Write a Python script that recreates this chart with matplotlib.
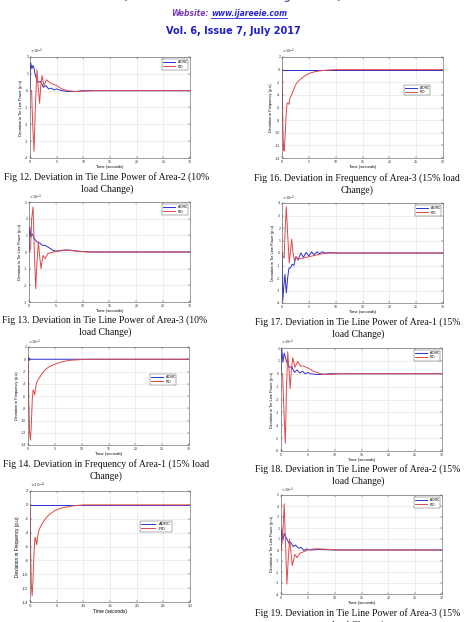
import numpy as np
import matplotlib
matplotlib.use('Agg')
import matplotlib.pyplot as plt
from matplotlib.lines import Line2D

W, H = 467, 622
plt.rcParams['axes.unicode_minus'] = False
plt.rcParams['font.family'] = ['Liberation Sans', 'DejaVu Sans']

BLUE = '#2f2fd0'
RED = '#e04848'

# ============ DATA (values in x10^-4, read from the page) ============
# Fig 12 - tie line power, area-2, 10% load change
t12_adrc = [0, 0.05, 0.15, 0.35, 0.55, 0.75, 1.0, 1.5, 2.0, 2.5, 3.0, 3.5, 4.0, 4.5, 5.0, 6.0, 7.0, 8.5, 10, 12, 30]
y12_adrc = [0, 1.2, 1.65, 1.3, 1.5, 1.35, 0.9, 0.5, 0.55, 0.2, 0.3, 0.1, 0.15, 0.05, 0.1, 0.0, -0.05, -0.05, 0, 0, 0]
t12_pid = [0, 0.3, 0.5, 0.75, 1.0, 1.3, 1.55, 1.8, 2.0, 2.25, 2.6, 3.1, 3.6, 4.2, 5.0, 6.0, 7.0, 8.5, 10, 12, 30]
y12_pid = [0, 0, -2.0, -3.6, -1.0, 1.25, 0.2, -0.75, 0.2, 0.9, 0.3, 0.65, 0.5, 0.4, 0.3, 0.1, 0.0, -0.05, -0.03, 0, 0]

# Fig 13 - tie line power, area-3, 10% load change
t13_adrc = [0, 0.05, 0.15, 0.35, 0.55, 0.8, 1.0, 1.5, 2.0, 2.5, 3.0, 3.5, 4.0, 4.5, 5.0, 6.0, 7.0, 8.0, 9.0, 10.5, 12, 30]
y13_adrc = [0, 1.0, 1.5, 0.9, 1.1, 0.95, 0.8, 0.6, 0.55, 0.4, 0.4, 0.3, 0.2, 0.1, 0.05, 0.1, 0.12, 0.1, 0.05, 0.02, 0, 0]
t13_pid = [0, 0.3, 0.5, 0.75, 1.0, 1.25, 1.5, 1.75, 2.0, 2.25, 2.6, 3.0, 3.5, 4.5, 5.5, 6.5, 7.5, 9, 11, 30]
y13_pid = [0, 0.2, 2.0, 2.7, 0.0, -2.2, -0.5, 0.6, -0.3, -1.0, -0.2, -0.4, -0.1, 0.0, 0.05, 0.1, 0.1, 0.05, 0, 0]

# Fig 14 - frequency, area-1, 15% load change
t14_adrc = [0, 0.1, 0.2, 0.3, 0.4, 30]
y14_adrc = [0, 0.3, -0.2, 0.1, 0, 0]
t14_pid = [0, 0.15, 0.3, 0.45, 0.6, 0.8, 0.95, 1.1, 1.25, 1.4, 1.6, 2.0, 2.5, 3.0, 3.5, 4.0, 5.0, 6.0, 7.0, 8.0, 10, 12, 30]
y14_pid = [0, -7, -12, -13.2, -11, -6.5, -5.0, -5.3, -5.8, -4.8, -3.8, -3.2, -2.5, -1.9, -1.5, -1.2, -0.8, -0.5, -0.3, -0.15, -0.05, 0, 0]

# Fig 15 (bottom left, caption cut off) - frequency
t15_adrc = [0, 30]
y15_adrc = [0, 0]
t15_pid = [0, 0.1, 0.25, 0.4, 0.55, 0.75, 0.95, 1.1, 1.25, 1.45, 1.7, 2.0, 2.7, 3.5, 4.7, 6.0, 8.0, 10, 30]
y15_pid = [0, -6, -11.5, -13.1, -11, -7, -4.7, -5.0, -5.75, -4.5, -3.6, -3.1, -2.2, -1.45, -0.8, -0.43, -0.15, 0, 0]

# Fig 16 - frequency, area-3, 15% load change
t16_adrc = [0, 30]
y16_adrc = [0, 0]
t16_pid = [0, 0.1, 0.2, 0.3, 0.4, 0.55, 0.75, 0.95, 1.1, 1.3, 1.45, 1.7, 2.0, 2.6, 3.2, 3.9, 4.5, 5.1, 6.0, 7.0, 8.5, 10, 30]
y16_pid = [0, -6, -10.5, -12.5, -12.9, -11, -7.5, -5.3, -5.3, -5.5, -4.6, -4.2, -3.5, -2.3, -1.7, -1.2, -0.85, -0.6, -0.35, -0.2, -0.07, 0, 0]

# Fig 17 - tie line power, area-1, 15% load change
t17_adrc = [0, 0.15, 0.35, 0.55, 0.8, 1.05, 1.3, 1.6, 1.9, 2.2, 2.6, 3.0, 3.5, 4.0, 4.5, 5.0, 5.5, 6.0, 6.5, 7.0, 7.5, 8.0, 9, 10, 12, 30]
y17_adrc = [0, -3.8, -2.6, -1.7, -3.2, -2.0, -1.2, -1.2, -0.9, -1.0, -0.3, -0.55, 0.0, -0.35, 0.05, -0.25, 0.1, -0.15, 0.1, -0.05, 0.1, 0, 0.03, 0, 0, 0]
t17_pid = [0, 0.2, 0.4, 0.6, 0.8, 1.05, 1.35, 1.6, 1.8, 2.05, 2.3, 2.6, 3.0, 3.5, 4.0, 5.0, 6.0, 7.0, 8.5, 10, 30]
y17_pid = [0, -0.3, -0.4, 2.0, 3.7, 1.5, -0.8, 0.2, 1.1, 0.0, -0.6, -0.3, -0.5, -0.45, -0.4, -0.3, -0.2, -0.1, 0, 0, 0]

# Fig 18 - tie line power, area-2, 15% load change
t18_adrc = [0, 0.05, 0.15, 0.35, 0.6, 0.8, 1.0, 1.5, 2.0, 2.5, 3.0, 3.5, 4.0, 4.5, 5.0, 5.5, 6.5, 7.5, 9, 10.5, 30]
y18_adrc = [0, 1.3, 1.9, 0.9, 1.6, 1.3, 1.0, 0.5, 0.55, 0.1, 0.3, 0.05, 0.2, 0.0, 0.1, 0.0, -0.05, -0.05, 0, 0, 0]
t18_pid = [0, 0.3, 0.55, 0.8, 1.0, 1.25, 1.5, 1.7, 1.95, 2.2, 2.6, 3.1, 3.6, 4.2, 5.0, 6.0, 7.0, 8.0, 9.5, 11, 30]
y18_pid = [0, 0, -3.0, -5.4, -1.5, 1.7, 0.3, -1.15, 0.4, 1.25, 0.5, 0.95, 0.6, 0.6, 0.45, 0.2, 0.05, -0.05, -0.05, 0, 0]

# Fig 19 - tie line power, area-3, 15% load change
t19_adrc = [0, 0.05, 0.15, 0.35, 0.6, 0.8, 1.0, 1.5, 1.8, 2.3, 2.7, 3.3, 3.7, 4.3, 4.7, 5.5, 7.0, 8.5, 10, 30]
y19_adrc = [0, 1.3, 1.9, 0.9, 1.5, 1.3, 1.1, 0.6, 0.7, 0.3, 0.45, 0.15, 0.25, -0.05, 0.1, 0.0, 0.05, 0.03, 0, 0]
t19_pid = [0, 0.3, 0.6, 0.85, 1.1, 1.35, 1.6, 1.85, 2.1, 2.6, 3.0, 3.5, 4.0, 5.0, 6.0, 7.0, 9.0, 12, 30]
y19_pid = [0, 1.0, 4.2, 0.5, -3.1, -0.8, 1.0, -0.2, -1.4, -0.4, -0.7, -0.3, -0.2, 0.0, 0.1, 0.1, 0.05, 0, 0]

TIE = 'Deviation in Tie Line Power (p.u)'
FREQ = 'Deviation in Frequency (p.u)'

fig = plt.figure(figsize=(W / 100, H / 100), dpi=100)


def panel(rect, ta, ya, tp, yp, ylo, yhi, ystep, ylabel, leg=None, fs=2.6):
    x0, y0, x1, y1 = rect
    ax = fig.add_axes([x0 / W, 1 - y1 / H, (x1 - x0) / W, (y1 - y0) / H])
    ax.plot(ta, ya, color=BLUE, lw=0.7, label='ADRC')
    ax.plot(tp, yp, color=RED, lw=0.7, label='PID')
    ax.set_xlim(0, 30)
    ax.set_ylim(ylo, yhi)
    ax.set_xticks(range(0, 31, 5))
    ax.set_yticks(np.arange(ylo, yhi + 0.01, ystep))
    ax.grid(True, color='#e2e2e2', lw=0.4)
    ax.set_axisbelow(True)
    ax.tick_params(labelsize=fs, direction='in', length=1.2, width=0.3,
                   pad=1.2, top=True, right=True, colors='#333333')
    for s in ax.spines.values():
        s.set_linewidth(0.4)
        s.set_color('#555555')
    ax.set_xlabel('Time (seconds)', fontsize=fs + 0.3, labelpad=1)
    ax.set_ylabel(ylabel, fontsize=fs + 0.2, labelpad=1.5)
    ax.text(0.0, 1.005, r'$\times10^{-4}$', transform=ax.transAxes,
            fontsize=fs, va='bottom', ha='left', color='#333333')
    if leg is None:
        ax.legend(loc='upper right', fontsize=fs - 0.2, frameon=True, fancybox=False,
                  edgecolor='#444444', framealpha=1, handlelength=3.5,
                  borderpad=0.3, labelspacing=0.15, borderaxespad=0.6).get_frame().set_linewidth(0.3)
    else:
        ax.legend(loc='upper right', bbox_to_anchor=leg, fontsize=fs - 0.2, frameon=True,
                  fancybox=False, edgecolor='#444444', framealpha=1, handlelength=3.5,
                  borderpad=0.3, labelspacing=0.15).get_frame().set_linewidth(0.3)
    return ax


panel((30, 57, 190, 158), t12_adrc, y12_adrc, t12_pid, y12_pid, -4, 2, 1, TIE)
panel((29, 202, 190, 302), t13_adrc, y13_adrc, t13_pid, y13_pid, -3, 3, 1, TIE)
panel((28, 347, 189, 445), t14_adrc, y14_adrc, t14_pid, y14_pid, -14, 2, 2, FREQ, leg=(0.93, 0.74))
panel((30, 491, 190, 602), t15_adrc, y15_adrc, t15_pid, y15_pid, -14, 2, 2, FREQ, leg=(0.9, 0.75), fs=3.2)
panel((282, 57, 443, 158), t16_adrc, y16_adrc, t16_pid, y16_pid, -14, 2, 2, FREQ, leg=(0.93, 0.74))
panel((282, 203, 443, 303), t17_adrc, y17_adrc, t17_pid, y17_pid, -4, 4, 1, TIE)
panel((281, 348, 442, 451), t18_adrc, y18_adrc, t18_pid, y18_pid, -6, 2, 1, TIE)
panel((281, 495, 442, 594), t19_adrc, y19_adrc, t19_pid, y19_pid, -4, 5, 1, TIE)

# ============ CAPTIONS ============
captions = [
    (107, 177, 'Fig 12. Deviation in Tie Line Power of Area-2 (10%'),
    (107, 189, 'load Change)'),
    (105, 320, 'Fig 13. Deviation in Tie Line Power of Area-3 (10%'),
    (105, 332, 'load Change)'),
    (106, 464, 'Fig 14. Deviation in Frequency of Area-1 (15% load'),
    (106, 476, 'Change)'),
    (357, 178, 'Fig 16. Deviation in Frequency of Area-3 (15% load'),
    (357, 190, 'Change)'),
    (358, 322, 'Fig 17. Deviation in Tie Line Power of Area-1 (15%'),
    (358, 334, 'load Change)'),
    (358, 469, 'Fig 18. Deviation in Tie Line Power of Area-2 (15%'),
    (358, 481, 'load Change)'),
    (358, 613, 'Fig 19. Deviation in Tie Line Power of Area-3 (15%'),
    (358, 625, 'load Change)'),
]
for x, y, s in captions:
    fig.text(x / W, 1 - y / H, s, ha='center', va='center', fontsize=7,
             family='Liberation Serif', color='#111111')

# ============ HEADER ============
fig.text(233 / W, 1 - (-2) / H, '(An ISO 3297: 2007 Certified Organization)', ha='center',
         va='center', fontsize=6.5, fontweight='bold', fontstyle='italic',
         family='DejaVu Sans', color='#6a3fa8')
fig.text(209 / W, 1 - 14 / H, 'Website:', ha='right', va='center', fontsize=5.5,
         fontweight='bold', fontstyle='italic', family='DejaVu Sans', color='#7a3fb0')
link = fig.text(211 / W, 1 - 14 / H, 'www.ijareeie.com', ha='left', va='center', fontsize=5.5,
                fontweight='bold', fontstyle='italic', family='DejaVu Sans', color='#2a2ad0')
fig.text(233 / W, 1 - 31 / H, 'Vol. 6, Issue 7, July 2017', ha='center', va='center',
         fontsize=7, fontweight='bold', family='DejaVu Sans', color='#1f1fc8')

fig.canvas.draw()
bb = link.get_window_extent()
fig.add_artist(Line2D([bb.x0 / W, bb.x1 / W], [1 - 17.5 / H, 1 - 17.5 / H],
                      transform=fig.transFigure, color='#2a2ad0', lw=0.6))

fig.savefig('out.png', dpi=100)
